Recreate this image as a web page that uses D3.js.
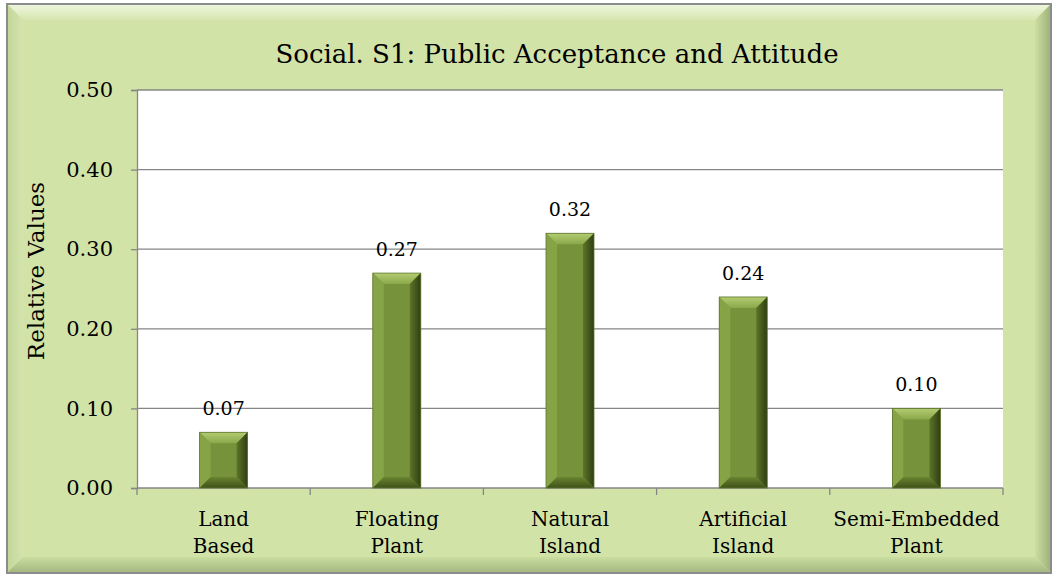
<!DOCTYPE html>
<html>
<head>
<meta charset="utf-8">
<script src="https://cdn.jsdelivr.net/npm/d3@7"></script>
<style>
  body { margin: 0; background: #fff; }
  text { font-family: "DejaVu Serif", serif; fill: #000; }
</style>
</head>
<body>
<div id="chart"></div>
<script>
// chart data
const categories = [["Land", "Based"], ["Floating", "Plant"], ["Natural", "Island"], ["Artificial", "Island"], ["Semi-Embedded", "Plant"]];
const values = [0.07, 0.27, 0.32, 0.24, 0.10];
const yTicks = [0, 0.1, 0.2, 0.3, 0.4, 0.5];
const title = "Social. S1: Public Acceptance and Attitude";
const yTitle = "Relative Values";

const W = 1058, H = 579;
const margin = { top: 90, right: 55, bottom: 91, left: 137 };
const width = W - margin.left - margin.right;
const height = H - margin.top - margin.bottom;

const svg = d3.select("#chart").append("svg").attr("width", W).attr("height", H);
const defs = svg.append("defs");

// gradients for the bevels
const lg = (id, x1, y1, x2, y2, stops) => {
  const g = defs.append("linearGradient").attr("id", id)
    .attr("x1", x1).attr("y1", y1).attr("x2", x2).attr("y2", y2);
  stops.forEach(s => g.append("stop").attr("offset", s[0]).attr("stop-color", s[1]));
};
lg("fTop", 0, 0, 0, 1, [[0, "#eef5dc"], [1, "#d6e6b0"]]);
lg("fLeft", 0, 0, 1, 0, [[0, "#c4d79a"], [1, "#d4e4ad"]]);
lg("fRight", 0, 0, 1, 0, [[0, "#cddfa2"], [1, "#9fb27a"]]);
lg("fBot", 0, 0, 0, 1, [[0, "#cadd9f"], [1, "#a5b880"]]);
lg("bTop", 0, 0, 0, 1, [[0, "#b3cc72"], [1, "#8aa84a"]]);
lg("bRight", 0, 0, 1, 0, [[0, "#5d7529"], [1, "#2f3e12"]]);
lg("bBot", 0, 0, 0, 1, [[0, "#6a8430"], [1, "#3e5118"]]);

// outer frame
const fx0 = 7, fy0 = 4, fx1 = 1051, fy1 = 573, b = 16;
svg.append("rect").attr("x", fx0).attr("y", fy0).attr("width", fx1 - fx0).attr("height", fy1 - fy0)
  .attr("fill", "#d2e3a8").attr("stroke", "#8c8c8c").attr("stroke-width", 2);
const poly = (pts, fill) => svg.append("polygon").attr("points", pts.map(p => p.join(",")).join(" ")).attr("fill", fill);
poly([[fx0 + 1, fy0 + 1], [fx1 - 1, fy0 + 1], [fx1 - b, fy0 + b], [fx0 + b, fy0 + b]], "url(#fTop)");
poly([[fx0 + 1, fy0 + 1], [fx0 + b, fy0 + b], [fx0 + b, fy1 - b], [fx0 + 1, fy1 - 1]], "url(#fLeft)");
poly([[fx1 - 1, fy0 + 1], [fx1 - 1, fy1 - 1], [fx1 - b, fy1 - b], [fx1 - b, fy0 + b]], "url(#fRight)");
poly([[fx0 + 1, fy1 - 1], [fx1 - 1, fy1 - 1], [fx1 - b, fy1 - b], [fx0 + b, fy1 - b]], "url(#fBot)");

// title
svg.append("text").attr("x", 557).attr("y", 63).attr("text-anchor", "middle")
  .style("font-size", "26px").text(title);

const plot = svg.append("g").attr("transform", `translate(${margin.left},${margin.top})`);

const xOuter = d3.scaleBand().domain(d3.range(categories.length)).range([0, width]);
const y = d3.scaleLinear().domain([0, 0.5]).range([height, 0]);

plot.append("rect").attr("width", width).attr("height", height).attr("fill", "#fff");

// gridlines
plot.selectAll(".grid").data(yTicks.slice(1)).enter().append("line")
  .attr("x1", 0).attr("x2", width)
  .attr("y1", d => y(d)).attr("y2", d => y(d))
  .attr("stroke", "#868686").attr("stroke-width", 1.3);

// y axis
const yAxis = d3.axisLeft(y).tickValues(yTicks).tickSize(6).tickPadding(18).tickFormat(d3.format(".2f"));
const gy = plot.append("g").call(yAxis);
gy.selectAll("path, line").attr("stroke", "#868686").attr("stroke-width", 1.3);
gy.selectAll("text").style("font-size", "21px").style("font-family", "'DejaVu Serif', serif").attr("fill", "#000");

// x axis
const gx = plot.append("g").attr("transform", `translate(0,${height})`);
gx.append("line").attr("x1", 0).attr("x2", width).attr("stroke", "#868686").attr("stroke-width", 1.3);
gx.selectAll(".tk").data(d3.range(categories.length + 1)).enter().append("line")
  .attr("x1", i => i * xOuter.step()).attr("x2", i => i * xOuter.step())
  .attr("y1", 0).attr("y2", 7).attr("stroke", "#868686").attr("stroke-width", 1.3);
gx.selectAll(".lbl").data(categories).enter().append("text")
  .attr("text-anchor", "middle").style("font-size", "20px")
  .attr("transform", (d, i) => `translate(${xOuter(i) + xOuter.bandwidth() / 2},0)`)
  .each(function (d) {
    d3.select(this).selectAll("tspan").data(d).enter().append("tspan")
      .attr("x", 0).attr("y", (t, j) => 38 + j * 27).text(t => t);
  });

// y title
svg.append("text").attr("transform", "translate(44,271) rotate(-90)")
  .attr("text-anchor", "middle").style("font-size", "23px").text(yTitle);

// bevelled bars
const bev = 11;
const bars = plot.selectAll(".bar").data(values).enter().append("g").attr("class", "bar");
bars.each(function (v, i) {
  const g = d3.select(this);
  const x0 = xOuter(i) + xOuter.bandwidth() / 2 - 24, x1 = x0 + 48;
  const y0 = y(v), y1 = y(0);
  const bb = Math.min(bev, (y1 - y0) / 2);
  const p = (pts, fill) => g.append("polygon").attr("points", pts.map(q => q.join(",")).join(" ")).attr("fill", fill);
  g.append("rect").attr("x", x0).attr("y", y0).attr("width", x1 - x0).attr("height", y1 - y0).attr("fill", "#76923b");
  p([[x0, y0], [x1, y0], [x1 - bb, y0 + bb], [x0 + bb, y0 + bb]], "url(#bTop)");
  p([[x0, y0], [x0 + bb, y0 + bb], [x0 + bb, y1 - bb], [x0, y1]], "#86a446");
  p([[x1, y0], [x1, y1], [x1 - bb, y1 - bb], [x1 - bb, y0 + bb]], "url(#bRight)");
  p([[x0, y1], [x1, y1], [x1 - bb, y1 - bb], [x0 + bb, y1 - bb]], "url(#bBot)");
  g.append("rect").attr("x", x0).attr("y", y0).attr("width", x1 - x0).attr("height", y1 - y0)
    .attr("fill", "none").attr("stroke", "#5f7530").attr("stroke-width", 0.8);
});

// value labels
plot.selectAll(".val").data(values).enter().append("text")
  .attr("text-anchor", "middle").style("font-size", "19px")
  .attr("x", (d, i) => xOuter(i) + xOuter.bandwidth() / 2)
  .attr("y", d => y(d) - 17)
  .text(d => d3.format(".2f")(d));
</script>
</body>
</html>
